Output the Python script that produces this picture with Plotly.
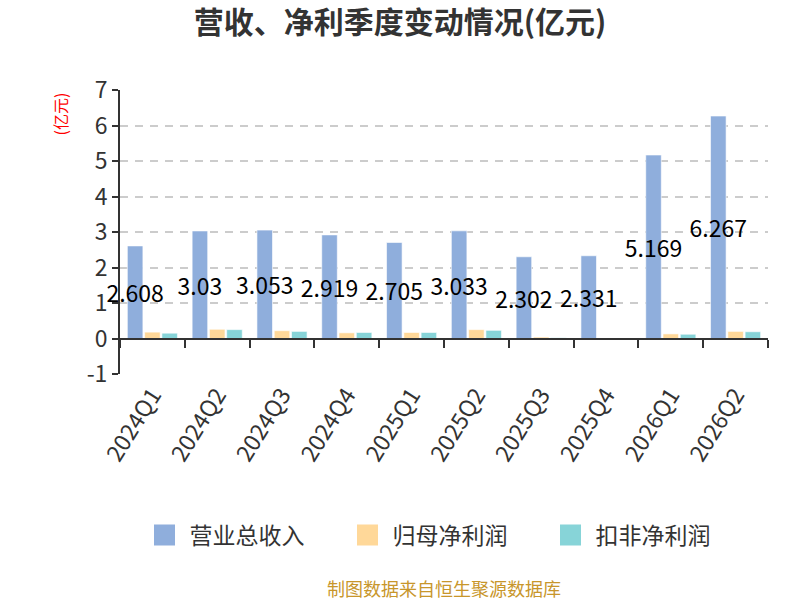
import plotly.graph_objects as go

quarters = ["2024Q1", "2024Q2", "2024Q3", "2024Q4", "2025Q1",
            "2025Q2", "2025Q3", "2025Q4", "2026Q1", "2026Q2"]
revenue = [2.608, 3.03, 3.053, 2.919, 2.705, 3.033, 2.302, 2.331, 5.169, 6.267]
net_profit = [0.18, 0.26, 0.22, 0.16, 0.17, 0.25, 0.04, 0.01, 0.13, 0.20]
deducted_profit = [0.15, 0.25, 0.20, 0.17, 0.17, 0.23, 0.02, 0.01, 0.12, 0.19]
revenue_labels = ["2.608", "3.03", "3.053", "2.919", "2.705",
                  "3.033", "2.302", "2.331", "5.169", "6.267"]
y_tick_values = [-1, 0, 1, 2, 3, 4, 5, 6, 7]
y_tick_labels = ["-1", "0", "1", "2", "3", "4", "5", "6", "7"]
series_names = ["营业总收入", "归母净利润", "扣非净利润"]
series_colors = ["#8FAEDC", "#FFD899", "#87D4D8"]

FONT = "Noto Sans CJK SC, Microsoft YaHei, sans-serif"
BAR_EDGE = dict(color="rgba(255,255,255,0.6)", width=1)

fig = go.Figure()
fig.add_trace(go.Bar(
    name=series_names[0], x=quarters, y=revenue, legendgroup="g0", showlegend=False,
    marker=dict(color=series_colors[0], line=BAR_EDGE),
    text=revenue_labels, textposition="inside", insidetextanchor="middle",
    textangle=0, constraintext="none", cliponaxis=False,
    insidetextfont=dict(color="#000000", size=23, family=FONT),
    hoverinfo="skip",
))
fig.add_trace(go.Bar(
    name=series_names[1], x=quarters, y=net_profit, legendgroup="g1", showlegend=False,
    marker=dict(color=series_colors[1], line=BAR_EDGE),
    hoverinfo="skip",
))
fig.add_trace(go.Bar(
    name=series_names[2], x=quarters, y=deducted_profit, legendgroup="g2", showlegend=False,
    marker=dict(color=series_colors[2], line=BAR_EDGE),
    hoverinfo="skip",
))
# legend swatches (larger than the default bar swatch)
for i, (nm, col) in enumerate(zip(series_names, series_colors)):
    fig.add_trace(go.Scatter(
        name=nm, x=[None], y=[None], mode="markers", legendgroup=f"g{i}",
        marker=dict(symbol="square", size=16, color=col, line=dict(color=col, width=5)),
        hoverinfo="skip",
    ))
# invisible helper trace to carry the zero-line axis with boundary ticks
fig.add_trace(go.Scatter(
    x=quarters, y=revenue, xaxis="x2", mode="none",
    showlegend=False, hoverinfo="skip",
))

fig.update_layout(
    width=800, height=600,
    paper_bgcolor="white", plot_bgcolor="white",
    font=dict(family=FONT, color="#333333"),
    margin=dict(l=120, r=32, t=90, b=226, autoexpand=False),
    barmode="group", bargap=0.2, bargroupgap=0.1,
    title=dict(text="<b>营收、净利季度变动情况(亿元)</b>", x=0.5, xanchor="center",
               y=0.963, yanchor="middle",
               font=dict(size=30, color="#333333", family=FONT)),
    xaxis=dict(
        type="category", showline=False, ticks="", showgrid=False, zeroline=False,
        tickangle=-58, tickfont=dict(size=23, color="#333333", family=FONT),
        ticklabelstandoff=2, automargin=False,
    ),
    xaxis2=dict(
        type="category", overlaying="x", matches="x", anchor="free", position=0.125,
        side="bottom", showline=True, linecolor="#333333", linewidth=2,
        ticks="outside", ticklen=8, tickwidth=2, tickcolor="#333333",
        tickson="boundaries", showticklabels=False, showgrid=False, zeroline=False,
        automargin=False,
    ),
    yaxis=dict(
        range=[-1, 7], tickmode="array", tickvals=y_tick_values, ticktext=y_tick_labels,
        showline=True, linecolor="#333333", linewidth=2,
        ticks="outside", ticklen=6, tickwidth=2, tickcolor="#333333",
        tickfont=dict(size=23, color="#333333", family=FONT),
        showgrid=True, gridcolor="#cccccc", gridwidth=1.5, griddash="8px,7px",
        zeroline=False, automargin=False,
    ),
    legend=dict(
        orientation="h", x=0.5, xanchor="center", y=-0.567, yanchor="middle",
        font=dict(size=23, color="#333333", family=FONT),
        itemwidth=40, entrywidth=148, itemsizing="trace",
    ),
    annotations=[
        dict(text="(亿元)", xref="paper", yref="paper", x=-0.0926, y=1.0,
             xanchor="center", yanchor="top", textangle=-90, showarrow=False,
             font=dict(size=16, color="#ff0000", family=FONT)),
        dict(text="制图数据来自恒生聚源数据库", xref="paper", yref="paper",
             x=0.5, y=-0.755, xanchor="center", yanchor="middle", showarrow=False,
             font=dict(size=18, color="#C8962B", family=FONT)),
    ],
)

fig.write_html(
    "out.html",
    config={"displayModeBar": False},
    post_script="document.body.style.margin='0';document.body.style.overflow='hidden';",
)
